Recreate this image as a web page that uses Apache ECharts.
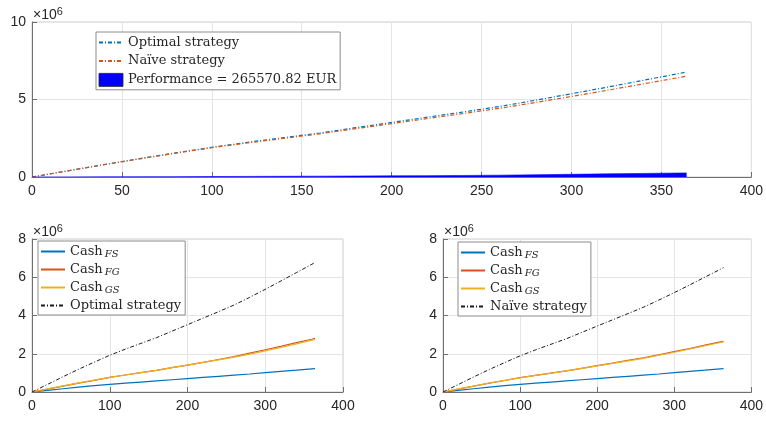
<!DOCTYPE html>
<html>
<head>
<meta charset="utf-8">
<script src="https://cdn.jsdelivr.net/npm/echarts@6/dist/echarts.min.js"></script>
<style>
  html, body { margin: 0; padding: 0; background: #ffffff; }
  #chart { width: 766px; height: 422px; }
</style>
</head>
<body>
<div id="chart"></div>
<script>
// Sampled days of the year
const DAYS = [0, 20, 40, 60, 80, 100, 120, 140, 160, 180, 200, 220, 240, 260, 280, 300, 320, 340, 360, 364];

// Cumulative portfolio value (EUR)
const OPTIMAL = [0, 400000, 800000, 1190000, 1560000, 1920000, 2240000, 2540000, 2840000, 3180000,
  3520000, 3860000, 4200000, 4550000, 4950000, 5370000, 5800000, 6240000, 6680000, 6770000];
const NAIVE = [0, 396000, 791000, 1175000, 1538000, 1890000, 2202000, 2494000, 2785000, 3116000,
  3446000, 3774000, 4100000, 4432000, 4805000, 5195000, 5597000, 6010000, 6422000, 6504429.18];
const PERFORMANCE = [0, 4000, 9000, 15000, 22000, 30000, 38000, 46000, 55000, 64000,
  74000, 86000, 100000, 118000, 145000, 175000, 203000, 230000, 258000, 265570.82];

// Cash components under the optimal strategy (EUR)
const CASH_FS = [0, 90000, 170000, 250000, 330000, 400000, 460000, 520000, 580000, 640000,
  700000, 760000, 820000, 880000, 940000, 1010000, 1080000, 1140000, 1210000, 1220000];
const CASH_FG_OPT = [0, 150000, 310000, 460000, 610000, 760000, 890000, 1010000, 1130000, 1270000,
  1410000, 1550000, 1700000, 1850000, 2030000, 2210000, 2390000, 2580000, 2760000, 2800000];
const CASH_GS_OPT = [0, 160000, 320000, 480000, 620000, 760000, 890000, 1010000, 1130000, 1270000,
  1410000, 1550000, 1680000, 1820000, 1980000, 2150000, 2330000, 2520000, 2710000, 2750000];

// Cash components under the naive strategy (EUR)
const CASH_FS_NAIVE = [0, 90000, 170000, 250000, 330000, 400000, 460000, 520000, 580000, 640000,
  700000, 760000, 820000, 880000, 940000, 1010000, 1080000, 1140000, 1210000, 1220000];
const CASH_FG_NAIVE = [0, 150000, 310000, 460000, 600000, 750000, 870000, 990000, 1100000, 1240000,
  1380000, 1510000, 1650000, 1790000, 1940000, 2110000, 2270000, 2450000, 2620000, 2650000];
const CASH_GS_NAIVE = [0, 160000, 310000, 470000, 610000, 740000, 870000, 980000, 1100000, 1240000,
  1370000, 1500000, 1630000, 1760000, 1920000, 2080000, 2250000, 2420000, 2590000, 2630000];

// Axis ticks
const X_TOP = { min: 0, max: 400, interval: 50 };
const Y_TOP = { min: 0, max: 10e6, interval: 5e6 };
const X_BOTTOM = { min: 0, max: 400, interval: 100 };
const Y_BOTTOM = { min: 0, max: 8e6, interval: 2e6 };

const BLUE = '#0072BD', ORANGE = '#D95319', YELLOW = '#EDB120', DARK = '#1a1a1a';
const DASH_DOT = [4, 2, 1, 2];
const SANS = '"Liberation Sans", Arial, Helvetica, sans-serif';
const SERIF = '"DejaVu Serif", "Liberation Serif", serif';

const pairs = (ys) => DAYS.map((d, i) => [d, ys[i]]);

const LABELS = {
  opt: 'Optimal strategy',
  naive: 'Naïve strategy',
  perf: 'Performance = ' + PERFORMANCE[PERFORMANCE.length - 1].toFixed(2) + ' EUR',
  fsL: '{base|Cash}{sub|FS}', fgL: '{base|Cash}{sub|FG}', gsL: '{base|Cash}{sub|GS}', optL: 'Optimal strategy',
  fsR: '{base|Cash}{sub|FS}', fgR: '{base|Cash}{sub|FG}', gsR: '{base|Cash}{sub|GS}', naiveR: 'Naïve strategy'
};

function xAxis(gridIndex, t) {
  return {
    type: 'value', gridIndex, min: t.min, max: t.max, interval: t.interval,
    axisLine: { show: true, onZero: false, lineStyle: { color: '#6f6f6f', width: 1 } },
    axisTick: { show: true, inside: true, length: 5, lineStyle: { color: '#6f6f6f' } },
    axisLabel: { margin: 7, color: '#262626', fontFamily: SANS, fontSize: 14 },
    splitLine: { show: true, lineStyle: { color: '#e4e4e4', width: 1 } }
  };
}
function yAxis(gridIndex, t) {
  return {
    type: 'value', gridIndex, min: t.min, max: t.max, interval: t.interval,
    name: '{base|×10}{sup|6}', nameLocation: 'end', nameGap: -2,
    nameTextStyle: {
      align: 'left', verticalAlign: 'bottom', color: '#262626',
      rich: {
        base: { fontFamily: SANS, fontSize: 14, color: '#262626', padding: [0, 0, 0, 1] },
        sup: { fontFamily: SANS, fontSize: 11, color: '#262626', verticalAlign: 'top', padding: [0, 0, 7, 0] }
      }
    },
    axisLine: { show: true, onZero: false, lineStyle: { color: '#6f6f6f', width: 1 } },
    axisTick: { show: true, inside: true, length: 5, lineStyle: { color: '#6f6f6f' } },
    axisLabel: { margin: 6, color: '#262626', fontFamily: SANS, fontSize: 14, formatter: (v) => String(v / 1e6) },
    splitLine: { show: true, lineStyle: { color: '#e4e4e4', width: 1 } }
  };
}
function line(name, idx, ys, color, dashed, width) {
  return {
    type: 'line', name, xAxisIndex: idx, yAxisIndex: idx, data: pairs(ys),
    symbol: 'none', smooth: false, z: 3,
    lineStyle: { color, width: width || 1.2, type: dashed ? DASH_DOT : 'solid' },
    itemStyle: { color }
  };
}
function legend(left, top, names, gap) {
  return {
    orient: 'vertical', left, top, data: names,
    backgroundColor: '#ffffff', borderColor: '#8c8c8c', borderWidth: 1,
    padding: [4, 4, 3, 2], itemGap: gap, itemWidth: 24, itemHeight: 13,
    selectedMode: false,
    // line items show only their stroke, no marker
    itemStyle: { opacity: 0 },
    formatter: (n) => LABELS[n],
    textStyle: {
      fontFamily: SERIF, fontSize: 13, color: '#262626',
      rich: {
        base: { fontFamily: SERIF, fontSize: 13, color: '#262626' },
        sub: { fontFamily: SERIF, fontSize: 10, fontStyle: 'italic', color: '#262626', padding: [5, 0, 0, 2] }
      }
    }
  };
}

const chart = echarts.init(document.getElementById('chart'), null, { renderer: 'canvas' });
chart.setOption({
  animation: false,
  backgroundColor: '#ffffff',
  grid: [
    { left: 32, right: 12, top: 22, height: 155, show: true, borderColor: '#cfcfcf', borderWidth: 1, backgroundColor: 'transparent' },
    { left: 32, width: 311, top: 239, height: 153, show: true, borderColor: '#cfcfcf', borderWidth: 1, backgroundColor: 'transparent' },
    { left: 443, width: 310, top: 239, height: 153, show: true, borderColor: '#cfcfcf', borderWidth: 1, backgroundColor: 'transparent' }
  ],
  xAxis: [xAxis(0, X_TOP), xAxis(1, X_BOTTOM), xAxis(2, X_BOTTOM)],
  yAxis: [yAxis(0, Y_TOP), yAxis(1, Y_BOTTOM), yAxis(2, Y_BOTTOM)],
  legend: [
    legend(96, 32, ['opt', 'naive', { name: 'perf', icon: 'rect', itemStyle: { opacity: 1, color: '#0000ff', borderColor: '#222', borderWidth: 0.8 } }], 5.5),
    legend(38, 241, ['fsL', 'fgL', 'gsL', 'optL'], 4),
    legend(458, 242, ['fsR', 'fgR', 'gsR', 'naiveR'], 4)
  ],
  series: [
    line('opt', 0, OPTIMAL, BLUE, true),
    line('naive', 0, NAIVE, ORANGE, true),
    {
      type: 'line', name: 'perf', xAxisIndex: 0, yAxisIndex: 0, data: pairs(PERFORMANCE),
      symbol: 'none', z: 4,
      lineStyle: { color: '#0000ff', width: 0.6 },
      itemStyle: { color: '#0000ff' },
      areaStyle: { color: '#0000ff', opacity: 1 }
    },
    line('fsL', 1, CASH_FS, BLUE, false),
    line('fgL', 1, CASH_FG_OPT, ORANGE, false),
    line('gsL', 1, CASH_GS_OPT, YELLOW, false),
    line('optL', 1, OPTIMAL, DARK, true, 1),
    line('fsR', 2, CASH_FS_NAIVE, BLUE, false),
    line('fgR', 2, CASH_FG_NAIVE, ORANGE, false),
    line('gsR', 2, CASH_GS_NAIVE, YELLOW, false),
    line('naiveR', 2, NAIVE, DARK, true, 1)
  ]
});
</script>
</body>
</html>
